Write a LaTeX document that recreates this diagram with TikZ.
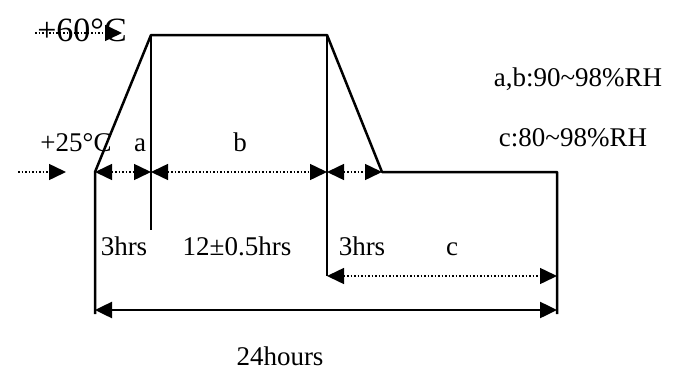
\documentclass[tikz,border=0pt]{standalone}
\usepackage{fontspec}
\setmainfont{Liberation Serif}
\usetikzlibrary{arrows.meta}
\begin{document}
\begin{tikzpicture}[x=1pt,y=-1pt,>={Triangle[length=17pt,width=16pt]},line join=round,
	font=\fontsize{27}{31}\selectfont,
	prof/.style={line width=2.5pt},
	dimdot/.style={dotted,line width=1.5pt},
	lbl/.style={anchor=base,inner sep=0pt}]
	\useasboundingbox (0,0) rectangle (685,372);
	% corners of the temperature profile
	\coordinate (lowA) at (95,172);
	\coordinate (topB) at (151,35);
	\coordinate (topC) at (327,35);
	\coordinate (lowD) at (382,172);
	\coordinate (lowE) at (557,172);
	\coordinate (footA) at (95,314);
	\coordinate (footB) at (151,230);
	\coordinate (footC) at (327,276);
	\coordinate (footE) at (557,314);
	\draw[prof] (footA)--(lowA)--(topB)--(topC)--(lowD)--(lowE)--(footE);
	\draw[prof] (topB)--(footB);
	\draw[prof] (topC)--(footC);
	
	\coordinate (in25) at (18,172);
	\coordinate (tip25) at (66,172);
	\coordinate (in60) at (35,33);
	\coordinate (tip60) at (122,33);
	\coordinate (arrB) at (151,172);
	\coordinate (arrC) at (327,172);
	\coordinate (arrE) at (557,276);
	\coordinate (totA) at (95,310);
	\coordinate (totE) at (557,310);
	\draw[dimdot,->] (in25)--(tip25);
	\draw[dimdot,->] (in60)--(tip60);
	\draw[dimdot,<->] (lowA)--(arrB);
	\draw[dimdot,<->] (arrB)--(arrC);
	\draw[dimdot,<->] (arrC)--(lowD);
	\draw[dimdot,<->] (footC)--(arrE);
	\draw[prof,<->] (totA)--(totE);
	
	\node[lbl,font=\fontsize{34}{38}\selectfont] (t60) at (82,41) {+60°C};
	\node[lbl] (t25) at (76,151) {+25°C};
	\node[lbl] (la) at (140,151) {a};
	\node[lbl] (lb) at (240,151) {b};
	\node[lbl] (h3a) at (124,255) {3hrs};
	\node[lbl] (h12) at (237,255) {12±0.5hrs};
	\node[lbl] (h3b) at (362,255) {3hrs};
	\node[lbl] (lc) at (452,255) {c};
	\node[lbl] (rhab) at (578,86) {a,b:90\textasciitilde98\%RH};
	\node[lbl] (rhc) at (573,146) {c:80\textasciitilde98\%RH};
	\node[lbl] (tot) at (280,365) {24hours};
\end{tikzpicture}
\end{document}
